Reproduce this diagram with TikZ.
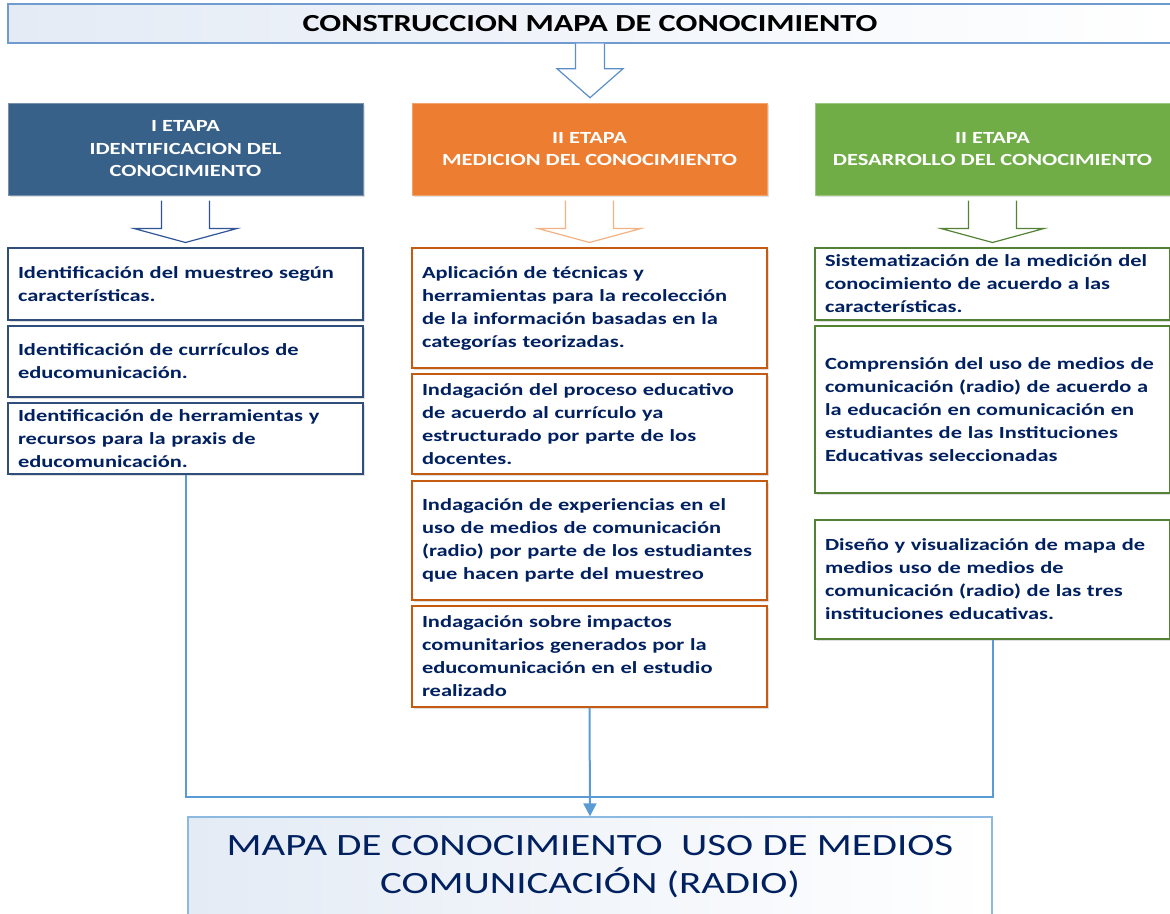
\documentclass[tikz,border=0pt]{standalone}
\usepackage{fontspec}
\setmainfont{Carlito}[FakeStretch=1.32]
\usetikzlibrary{arrows.meta,shadows,calc}
\definecolor{navy}{HTML}{002060}
\definecolor{stageblue}{HTML}{386189}
\definecolor{stageorange}{HTML}{ED7D31}
\definecolor{stagegreen}{HTML}{70AD47}
\definecolor{bordblue}{HTML}{2F4F7A}
\definecolor{bordorange}{HTML}{C55A11}
\definecolor{bordgreen}{HTML}{548235}
\definecolor{linkblue}{HTML}{5B9BD5}
\definecolor{titleborder}{HTML}{6F9BD1}
\definecolor{palefill}{HTML}{E4EBF5}
\definecolor{arrowblue}{HTML}{2F5597}
\definecolor{arroworange}{HTML}{F4B183}
\definecolor{arrowgreen}{HTML}{548235}
\definecolor{mainarrow}{HTML}{5B8FC8}
\newcommand\hollowarrow[6]{%
  \draw[#6] ($(#1)+(-#2,0)$) -- ($(#1)+(-#2,#4)$) -- ($(#1)+(-#3,#4)$) --
    ($(#1)+(0,#5)$) -- ($(#1)+(#3,#4)$) -- ($(#1)+(#2,#4)$) -- ($(#1)+(#2,0)$);}
\tikzset{
  softshadow/.style={drop shadow={shadow xshift=1.5pt,shadow yshift=-2pt,opacity=.25,fill=black!50}},
  stagebox/.style={rectangle,minimum width=355pt,minimum height=92pt,inner sep=0pt,
    text=white,align=center,softshadow,
    font=\fontsize{17}{22.5}\selectfont\bfseries},
  itembox/.style={rectangle,draw,line width=1.5pt,fill=white,minimum width=355pt,
    text width=335pt,inner xsep=10pt,inner ysep=0pt,align=left,text=navy,softshadow,
    font=\fontsize{17}{23}\selectfont\bfseries},
  bluebox/.style={itembox,draw=bordblue},
  orangebox/.style={itembox,draw=bordorange},
  greenbox/.style={itembox,draw=bordgreen},
  link/.style={draw=linkblue,line width=2pt},
}
\begin{document}
\begin{tikzpicture}[x=1pt,y=-1pt]
\useasboundingbox (0,0) rectangle (1170,913);
% title
\node[rectangle,draw=titleborder,line width=1.4pt,left color=palefill,right color=white,
  minimum width=1164pt,minimum height=39pt,inner sep=0pt,
  font=\fontsize{24.5}{28}\selectfont\bfseries] (title) at (590,23.5) {CONSTRUCCION MAPA DE CONOCIMIENTO};
\hollowarrow{title.south}{14.5}{33}{25}{54}{draw=mainarrow,line width=1.2pt,fill=white}
% stages
\node[stagebox,fill=stageblue,draw=stageblue!70!white,line width=1pt] (s1) at (185.5,149)
  {I ETAPA\\IDENTIFICACION DEL\\CONOCIMIENTO};
\node[stagebox,fill=stageorange,draw=stageorange!70!white,line width=1pt] (s2) at (589.5,149)
  {II ETAPA\\MEDICION DEL CONOCIMIENTO};
\node[stagebox,fill=stagegreen,draw=stagegreen!70!white,line width=1pt] (s3) at (992.5,149)
  {II ETAPA\\DESARROLLO DEL CONOCIMIENTO};
\coordinate (s1a) at ($(s1.south)+(0,5)$);
\coordinate (s2a) at ($(s2.south)+(0,5)$);
\coordinate (s3a) at ($(s3.south)+(0,5)$);
\hollowarrow{s1a}{24}{51.5}{28}{42}{draw=arrowblue,line width=1.2pt,fill=white}
\hollowarrow{s2a}{24}{51.5}{28}{42}{draw=arroworange,line width=1.2pt,fill=white}
\hollowarrow{s3a}{24}{51.5}{28}{42}{draw=arrowgreen,line width=1.2pt,fill=white}
% column 1
\node[bluebox,minimum height=72pt] (a1) at (185.5,284)
  {Identificación del muestreo según\\características.};
\node[bluebox,minimum height=71pt] (a2) at (185.5,361.5)
  {Identificación de currículos de\\educomunicación.};
\node[bluebox,minimum height=71pt] (a3) at (185.5,438.5)
  {Identificación de herramientas y\\recursos para la praxis de\\educomunicación.};
% column 2
\node[orangebox,minimum height=120pt] (b1) at (589.5,308)
  {Aplicación de técnicas y\\herramientas para la recolección\\de la información basadas en la\\categorías teorizadas.};
\node[orangebox,minimum height=100pt] (b2) at (589.5,424)
  {Indagación del proceso educativo\\de acuerdo al currículo ya\\estructurado por parte de los\\docentes.};
\node[orangebox,minimum height=119pt] (b3) at (589.5,540.5)
  {Indagación de experiencias en el\\uso de medios de comunicación\\(radio) por parte de los estudiantes\\que hacen parte del muestreo};
\node[orangebox,minimum height=101pt] (b4) at (589.5,656.5)
  {Indagación sobre impactos\\comunitarios generados por la\\educomunicación en el estudio\\realizado};
% column 3
\node[greenbox,minimum height=72pt] (c1) at (992.5,284)
  {Sistematización de la medición del\\conocimiento de acuerdo a las\\características.};
\node[greenbox,minimum height=167pt] (c2) at (992.5,409.5)
  {Comprensión del uso de medios de\\comunicación (radio) de acuerdo a\\la educación en comunicación en\\estudiantes de las Instituciones\\Educativas seleccionadas};
\node[greenbox,minimum height=119pt] (c3) at (992.5,579.5)
  {Diseño y visualización de mapa de\\medios uso de medios de\\comunicación (radio) de las tres\\instituciones educativas.};
% final
\node[rectangle,draw=linkblue!70!white,line width=1.4pt,left color=palefill,right color=white,
  minimum width=804pt,minimum height=100pt,inner sep=0pt,align=center,text=navy,
  font=\fontsize{31}{38}\selectfont] (map) at (590,867)
  {MAPA DE CONOCIMIENTO\ \ USO DE MEDIOS\\COMUNICACIÓN (RADIO)};
% connectors
\coordinate (jl) at (186,797);
\draw[link] (a3.south) -- (a3.south |- jl) -- (c3.south |- jl) -- (c3.south);
\draw[link,-{Triangle[width=13pt,length=13pt]}] (b4.south) -- (map.north);
\end{tikzpicture}
\end{document}
